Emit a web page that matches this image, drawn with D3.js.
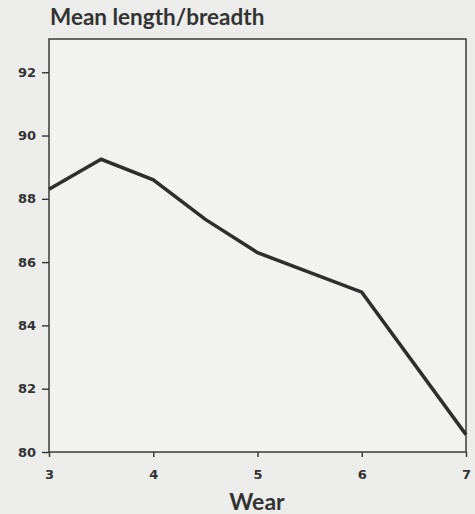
<!DOCTYPE html>
<html>
<head>
<meta charset="utf-8">
<script src="https://cdn.jsdelivr.net/npm/d3@7"></script>
<style>
  html, body { margin: 0; padding: 0; background: #ececea; }
  svg { display: block; }
  .tick text { font-family: "DejaVu Sans", sans-serif; font-weight: bold; font-size: 13px; fill: #333; }
  .tick line { stroke: #333; stroke-width: 1.4; }
  .domain { display: none; }
</style>
</head>
<body>
<div id="chart"></div>
<script>
// values
const wear = [3, 3.5, 4, 4.5, 5, 6, 7];
const meanLB = [88.3, 89.25, 88.6, 87.35, 86.3, 85.05, 80.55];
const xTicks = [3, 4, 5, 6, 7];
const yTicks = [80, 82, 84, 86, 88, 90, 92];

const W = 475, H = 514;
const plot = { left: 49, right: 466, top: 39, bottom: 452 };

const svg = d3.select('#chart').append('svg')
  .attr('width', W)
  .attr('height', H);

svg.append('rect')
  .attr('width', W).attr('height', H)
  .attr('fill', '#ececea');

const x = d3.scaleLinear().domain([3, 7]).range([plot.left, plot.right]);
const y = d3.scaleLinear().domain([80, 93.05]).range([plot.bottom, plot.top]);

// frame
svg.append('rect')
  .attr('x', plot.left)
  .attr('y', plot.top)
  .attr('width', plot.right - plot.left)
  .attr('height', plot.bottom - plot.top)
  .attr('fill', '#f2f2f0')
  .attr('stroke', '#3a3a3a')
  .attr('stroke-width', 1.5);

svg.append('g')
  .attr('transform', `translate(0,${plot.bottom})`)
  .call(d3.axisBottom(x).tickValues(xTicks).tickSize(5).tickPadding(13).tickFormat(d3.format('d')));

svg.append('g')
  .attr('transform', `translate(${plot.left},0)`)
  .call(d3.axisLeft(y).tickValues(yTicks).tickSize(7).tickPadding(6).tickFormat(d3.format('d')));

const line = d3.line()
  .x((d, i) => x(wear[i]))
  .y(d => y(d));

svg.append('path')
  .datum(meanLB)
  .attr('d', line)
  .attr('fill', 'none')
  .attr('stroke', '#2e2e2e')
  .attr('stroke-width', 3.5)
  .attr('stroke-linejoin', 'miter');

// titles
svg.append('text')
  .attr('x', 50)
  .attr('y', 25)
  .attr('font-family', 'Lato, sans-serif')
  .attr('font-weight', 700)
  .attr('font-size', 22.5)
  .attr('fill', '#333')
  .text('Mean length/breadth');

svg.append('text')
  .attr('x', 257)
  .attr('y', 510)
  .attr('text-anchor', 'middle')
  .attr('font-family', 'Lato, sans-serif')
  .attr('font-weight', 700)
  .attr('font-size', 23)
  .attr('fill', '#333')
  .text('Wear');
</script>
</body>
</html>
